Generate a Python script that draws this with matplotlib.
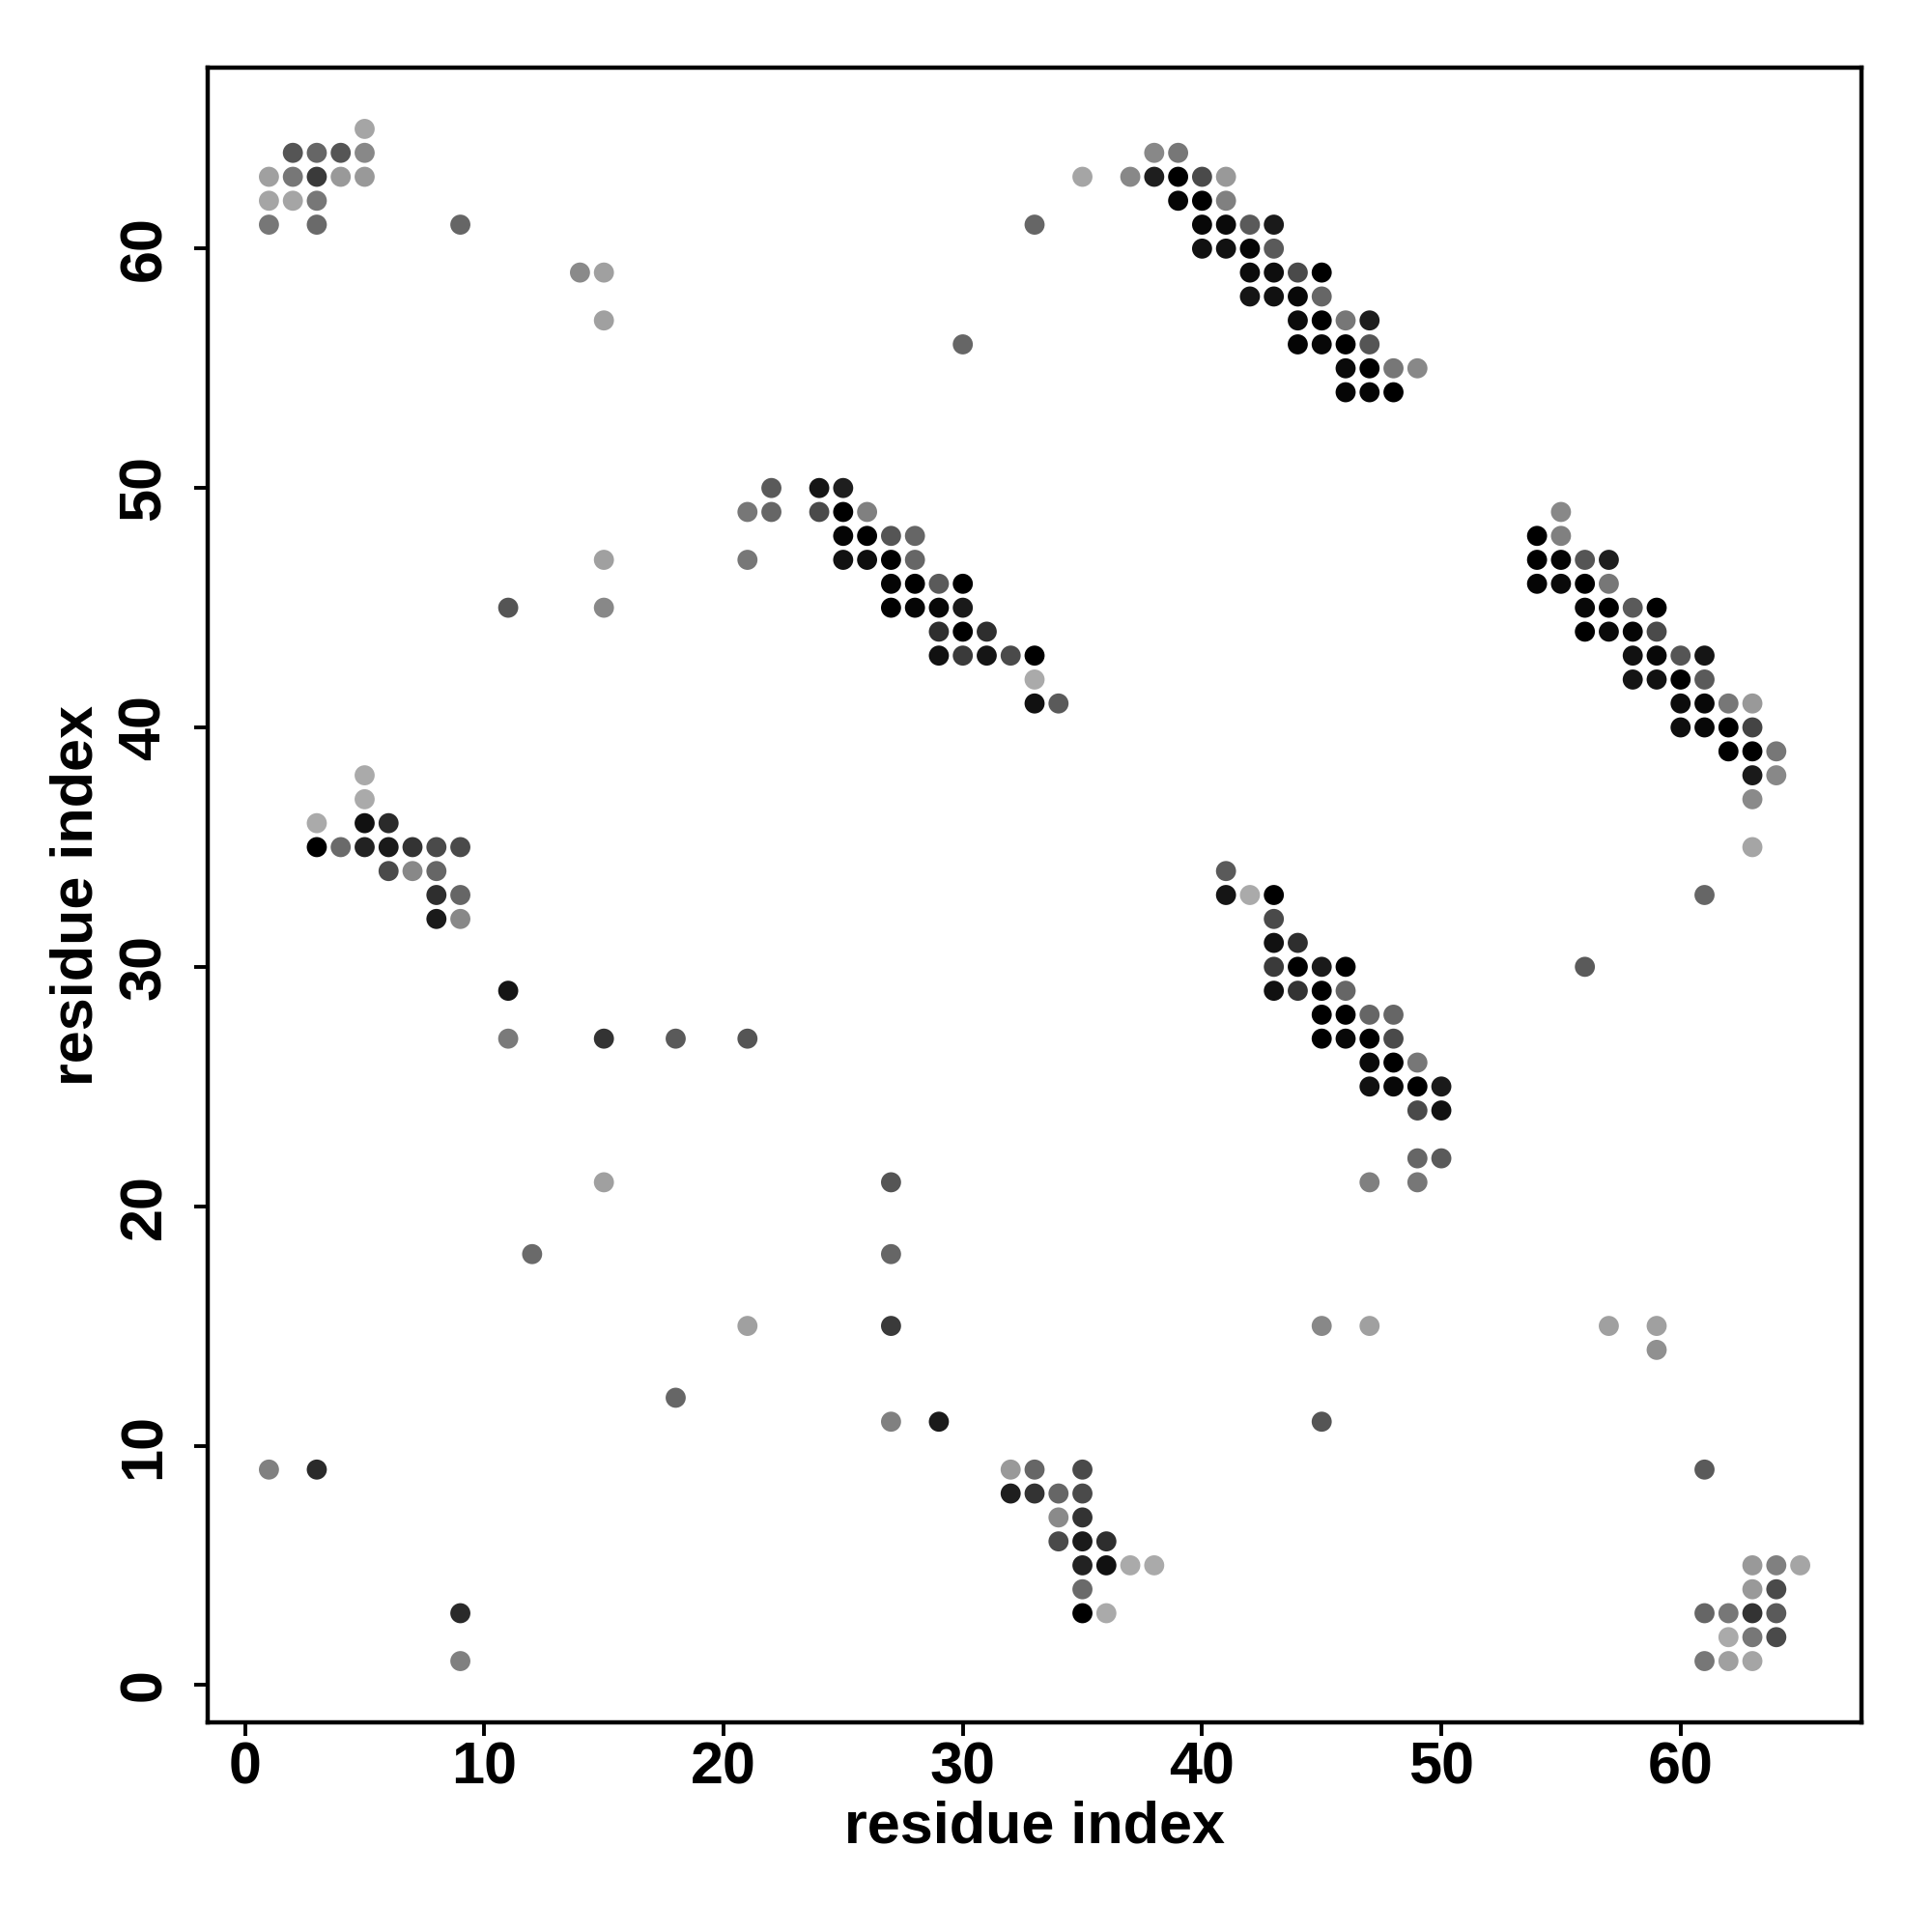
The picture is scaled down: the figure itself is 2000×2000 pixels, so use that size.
import matplotlib
matplotlib.use("Agg")
import matplotlib.pyplot as plt

# contact map: residue i, residue j, grey level (0 = black, 255 = white)
res_i = [
    5, 2, 3, 4, 5, 1, 2, 3, 4, 5, 1, 2, 3, 1, 3, 9, 14, 15, 15,
    22, 24, 25, 21, 22, 24, 25, 26, 25, 26, 27, 28,
    15, 21, 25, 26, 27, 28, 27, 28, 29, 30,
    11, 15, 27, 28, 29, 30, 29, 30, 31, 29, 30, 31, 32, 33, 33, 33, 34,
    35, 37, 38, 39, 40, 41, 38, 39, 39, 40, 41,
    33, 40, 41, 42, 43, 40, 41, 42, 43, 42, 43, 44, 45, 42, 43, 44, 45,
    44, 45, 46, 47, 30, 44, 45, 46, 47, 46, 47, 48, 49, 46, 47, 48,
    55, 54, 55, 54, 55, 56, 57, 54, 55, 56, 57, 56, 57, 58, 59,
    56, 57, 58, 59, 58, 59, 60, 61, 58, 59, 60, 61, 60, 61, 62, 63,
    60, 61, 62, 63, 62, 63, 64, 63, 64, 63, 63, 61, 56,
    5, 5, 3, 5, 6, 3, 4, 5, 6, 7, 8, 9, 6, 7, 8, 8, 9, 8, 9,
    11, 11, 15, 18, 21,
    41, 41, 42, 43, 43, 43, 44, 43, 44, 45, 46, 43, 44, 45, 46,
    45, 46, 47, 48, 45, 46, 47, 48, 47, 48, 49, 47, 48, 49, 50,
    49, 50, 49, 50, 47, 49,
    15, 27, 12, 27, 21, 27, 45, 47, 57, 59, 59, 18, 27, 29, 45,
    1, 3, 32, 33, 35, 61, 32, 33, 34, 35, 34, 35, 34, 35, 36,
    35, 36, 37, 38, 63, 64, 65, 35, 63, 64,
    9, 35, 36, 61, 62, 63, 64, 62, 63, 64, 9, 61, 62, 63,
]
res_j = [
    65, 64, 64, 64, 64, 63, 63, 63, 63, 63, 62, 62, 62, 61, 61, 61, 59, 59, 57,
    50, 50, 50, 49, 49, 49, 49, 49, 48, 48, 48, 48,
    47, 47, 47, 47, 47, 47, 46, 46, 46, 46,
    45, 45, 45, 45, 45, 45, 44, 44, 44, 43, 43, 43, 43, 43, 42, 41, 41,
    63, 63, 63, 63, 63, 63, 64, 64, 62, 62, 62,
    61, 61, 61, 61, 61, 60, 60, 60, 60, 59, 59, 59, 59, 58, 58, 58, 58,
    57, 57, 57, 57, 56, 56, 56, 56, 56, 55, 55, 55, 55, 54, 54, 54,
    49, 48, 48, 47, 47, 47, 47, 46, 46, 46, 46, 45, 45, 45, 45,
    44, 44, 44, 44, 43, 43, 43, 43, 42, 42, 42, 42, 41, 41, 41, 41,
    40, 40, 40, 40, 39, 39, 39, 38, 38, 37, 35, 33, 30,
    38, 37, 36, 36, 36, 35, 35, 35, 35, 35, 35, 35, 34, 34, 34, 33, 33, 32, 32,
    29, 27, 27, 27, 27,
    34, 33, 33, 33, 32, 31, 31, 30, 30, 30, 30, 29, 29, 29, 29,
    28, 28, 28, 28, 27, 27, 27, 27, 26, 26, 26, 25, 25, 25, 25,
    24, 24, 22, 22, 21, 21,
    21, 21, 18, 18, 15, 15, 15, 15, 15, 15, 14, 12, 11, 11, 11,
    9, 9, 9, 9, 9, 9, 8, 8, 8, 8, 7, 7, 6, 6, 6,
    5, 5, 5, 5, 5, 5, 5, 4, 4, 4,
    3, 3, 3, 3, 3, 3, 3, 2, 2, 2, 1, 1, 1, 1,
]
grey = [
    0xa5, 0x55, 0x66, 0x55, 0x88, 0xa0, 0x77, 0x3a, 0x99, 0x99, 0xa5, 0xa5, 0x77, 0x77, 0x6a, 0x66, 0x8a, 0xa0, 0xa0,
    0x5a, 0x15, 0x1e, 0x77, 0x66, 0x4a, 0x00, 0x80, 0x05, 0x00, 0x55, 0x66,
    0xa0, 0x77, 0x11, 0x0e, 0x00, 0x66, 0x05, 0x00, 0x5a, 0x00,
    0x55, 0x88, 0x00, 0x05, 0x08, 0x1a, 0x2e, 0x00, 0x2e, 0x11, 0x3a, 0x15, 0x4a, 0x00, 0xaa, 0x11, 0x5a,
    0xa5, 0x88, 0x1e, 0x00, 0x4a, 0x99, 0x88, 0x77, 0x05, 0x00, 0x80,
    0x66, 0x08, 0x0a, 0x5a, 0x1a, 0x11, 0x11, 0x05, 0x5a, 0x0c, 0x0e, 0x4a, 0x00, 0x15, 0x11, 0x08, 0x66,
    0x0c, 0x00, 0x77, 0x1e, 0x66, 0x05, 0x08, 0x00, 0x55, 0x0a, 0x00, 0x77, 0x88, 0x05, 0x05, 0x00,
    0x88, 0x00, 0x80, 0x00, 0x05, 0x55, 0x1e, 0x05, 0x0a, 0x00, 0x77, 0x08, 0x00, 0x5a, 0x00,
    0x00, 0x0a, 0x05, 0x4a, 0x11, 0x08, 0x55, 0x15, 0x15, 0x11, 0x00, 0x5a, 0x0c, 0x08, 0x77, 0x99,
    0x0e, 0x08, 0x00, 0x44, 0x00, 0x00, 0x77, 0x1a, 0x88, 0x8a, 0xa5, 0x66, 0x5a,
    0xaa, 0xaa, 0xaa, 0x11, 0x2a, 0x00, 0x6a, 0x22, 0x1a, 0x33, 0x4a, 0x4a, 0x4a, 0x88, 0x66, 0x2e, 0x66, 0x1a, 0x88,
    0x15, 0x7a, 0x33, 0x5a, 0x55,
    0x5a, 0x15, 0xaa, 0x00, 0x4a, 0x11, 0x2e, 0x3a, 0x00, 0x1a, 0x00, 0x11, 0x33, 0x00, 0x66,
    0x00, 0x00, 0x66, 0x66, 0x00, 0x08, 0x00, 0x4a, 0x0a, 0x00, 0x77, 0x11, 0x08, 0x00, 0x1a,
    0x4a, 0x11, 0x66, 0x5a, 0x80, 0x77,
    0xa0, 0x55, 0x6a, 0x66, 0xa0, 0x3a, 0x88, 0xa0, 0xa0, 0xa0, 0x90, 0x66, 0x80, 0x1a, 0x55,
    0x80, 0x2a, 0x99, 0x66, 0x4a, 0x5a, 0x1e, 0x33, 0x66, 0x4a, 0x8a, 0x33, 0x4a, 0x1a, 0x2e,
    0x22, 0x11, 0xaa, 0xaa, 0x99, 0x80, 0xa5, 0x6a, 0x99, 0x4a,
    0x2a, 0x00, 0xaa, 0x66, 0x77, 0x33, 0x5a, 0xaa, 0x77, 0x4a, 0x80, 0x77, 0xa0, 0xa5,
]
x_ticks = [0, 10, 20, 30, 40, 50, 60]
y_ticks = [0, 10, 20, 30, 40, 50, 60]
x_label = "residue index"
y_label = "residue index"

plt.rcParams['font.family'] = ['Liberation Sans', 'DejaVu Sans']

fig = plt.figure(figsize=(10, 10), dpi=200)
ax = fig.add_axes([0.1075, 0.1085, 0.856, 0.8565])

colors = [str(g / 255.0) for g in grey]
ax.scatter(res_i, res_j, s=56, c=colors, edgecolors='none', zorder=3)

ax.set_xlim(-1.56, 67.56)
ax.set_ylim(-1.56, 67.56)

ax.set_xticks(x_ticks)
ax.set_yticks(y_ticks)
ax.set_xticklabels([str(t) for t in x_ticks], fontsize=22, fontweight='bold')
ax.set_yticklabels([str(t) for t in y_ticks], fontsize=22, fontweight='bold',
                   rotation=90, va='center')
ax.tick_params(axis='x', length=5, width=1.4, pad=2, color='black')
ax.tick_params(axis='y', length=5, width=1.4, pad=8, color='black')

for sp in ax.spines.values():
    sp.set_linewidth(1.6)
    sp.set_color('black')

ax.set_xlabel(x_label, fontsize=22, fontweight='bold', va='center')
ax.set_ylabel(y_label, fontsize=22, fontweight='bold', va='center')
ax.xaxis.set_label_coords(0.5, -0.0636)
ax.yaxis.set_label_coords(-0.0789, 0.5)

fig.savefig("out.png", dpi=200, facecolor='white')
